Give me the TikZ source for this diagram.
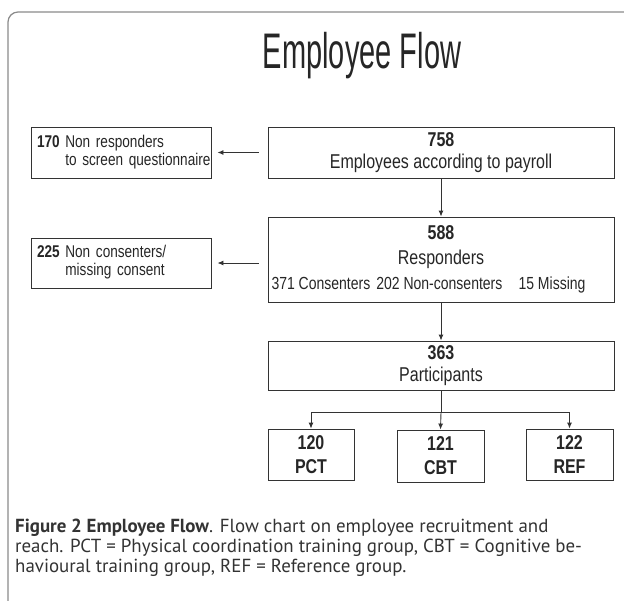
\documentclass[tikz,border=0pt]{standalone}
\usepackage{fontspec}
\usetikzlibrary{arrows.meta}
\newfontfamily\boxfont[FakeStretch=0.8]{Liberation Sans}
\newfontfamily\titlefont[FakeStretch=0.58]{Liberation Sans}
\newfontfamily\capfont{PT Sans}
\definecolor{linegray}{HTML}{333333}
\definecolor{framegray}{HTML}{8A8A8A}
\tikzset{
  box/.style={draw=linegray, line width=0.9pt, inner sep=0pt, align=center, text=black!85},
  sidebox/.style={box, inner xsep=6pt, text width=168pt, align=left, minimum width=180pt},
  arr/.style={-{Latex[length=6pt,width=5pt]}, draw=linegray, line width=0.9pt},
}

\begin{document}
\begin{tikzpicture}[x=1pt,y=-1pt]
\useasboundingbox (0,0) rectangle (624,600);
\draw[framegray, line width=1.2pt, rounded corners=10pt] (8,610) -- (8,12) -- (630,12);

\node[anchor=base, text=black!85] (title) at (362,68) {\titlefont\fontsize{50}{50}\selectfont Employee Flow};

% main column
\node[box, minimum width=346pt, minimum height=51pt, font=\boxfont\fontsize{20}{22}\selectfont] (emp) at (441,152.5)
  {\textbf{758}\\Employees according to payroll};
\node[box, minimum width=346pt, minimum height=85pt, font=\boxfont\fontsize{20}{25}\selectfont] (resp) at (441,259.5)
  {\textbf{588}\\Responders\\\hspace*{-25pt}\makebox[314pt][l]{\fontsize{17.5}{25}\selectfont 371 Consenters\hspace{6pt}202 Non-consenters\hfill 15 Missing}};
\node[box, minimum width=346pt, minimum height=49pt, font=\boxfont\fontsize{20}{22}\selectfont] (part) at (441,365.5)
  {\textbf{363}\\Participants};

% groups
\node[box, minimum width=86pt, minimum height=51pt, font=\boxfont\bfseries\fontsize{20}{24}\selectfont] (pct) at (311,454.5) {120\\PCT};
\node[box, minimum width=87pt, minimum height=52pt, font=\boxfont\bfseries\fontsize{20}{24}\selectfont] (cbt) at (440.5,456) {121\\CBT};
\node[box, minimum width=87pt, minimum height=51pt, font=\boxfont\bfseries\fontsize{20}{24}\selectfont] (ref) at (569.5,454.5) {122\\REF};

% drop-outs
\node[sidebox, minimum height=51pt, font=\boxfont\fontsize{17}{18}\selectfont] (nonresp) at (121,152.5)
  {\begin{tabular}{@{}l@{ }l@{}}\textbf{170}&Non responders\\&to screen questionnaire\end{tabular}};
\node[sidebox, minimum height=50pt, font=\boxfont\fontsize{17}{18}\selectfont] (noncons) at (121,263)
  {\begin{tabular}{@{}l@{ }l@{}}\textbf{225}&Non consenters/\\&missing consent\end{tabular}};

\draw[arr] (emp) -- (resp);
\draw[arr] (resp) -- (part);
\draw[arr] ([xshift=-9pt]emp.west) -- ([xshift=6pt]nonresp.east);
\draw[arr] ([xshift=-9pt,yshift=-3.5pt]resp.west) -- ([xshift=6pt]noncons.east);

\draw[linegray, line width=0.9pt] (part.south) -- ++(0,22) coordinate (split);
\draw[linegray, line width=0.9pt] (pct.north |- split) -- (ref.north |- split);
\draw[arr] (pct.north |- split) -- (pct.north);
\draw[arr] (split) -- (cbt.north);
\draw[arr] (ref.north |- split) -- (ref.north);

\node[anchor=north west, align=left, inner sep=0pt, text=black!80, font=\capfont\fontsize{18.9}{20}\selectfont] (caption) at (15,518.5)
  {\textbf{Figure 2 Employee Flow}. Flow chart on employee recruitment and\\
   reach. PCT = Physical coordination training group, CBT = Cognitive be-\\
   havioural training group, REF = Reference group.};
\end{tikzpicture}
\end{document}
